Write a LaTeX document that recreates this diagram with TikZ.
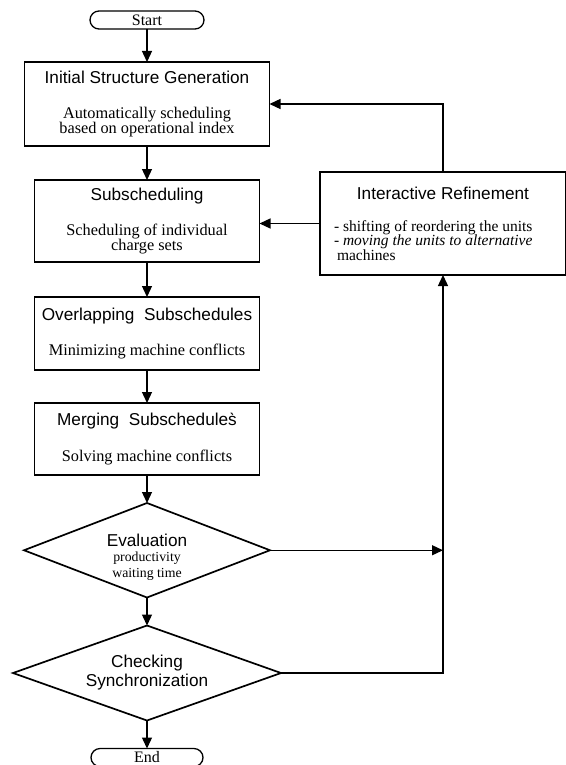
\documentclass[tikz,border=0pt]{standalone}
\usepackage{fontspec}
\setmainfont{Liberation Serif}
\newfontfamily\headfont{Liberation Sans}
\usetikzlibrary{shapes.geometric, positioning}
\usetikzlibrary{arrows.meta}
\newcommand\tightlines{\lineskiplimit=-20pt\relax}

\begin{document}
\begin{tikzpicture}[x=1pt,y=-1pt,>={Triangle[length=11pt,width=10pt]},
                    line width=1.3pt,node distance=33pt,
                    proc/.style={draw,rectangle,align=center,inner sep=0pt,outer sep=0pt,
                                 font=\fontsize{16.3}{15}\selectfont},
                    term/.style={draw,rectangle,rounded corners=9pt,minimum height=18pt,
                                 inner sep=0pt,outer sep=0pt,font=\fontsize{16}{16}\selectfont},
                    decision/.style={draw,diamond,align=center,inner sep=0pt,outer sep=0pt,
                                     line width=1.7pt}]
   \useasboundingbox (0,0) rectangle (565,765);
   \node[term,minimum width=114pt] (start) at (147,20) {Start};
   \node[proc,minimum width=245pt,minimum height=84pt] (init) [below=33pt of start]
      {{\headfont\fontsize{17.2}{15}\selectfont Initial Structure Generation}\\[20pt]
       Automatically scheduling\\based on operational index};
   \node[proc,minimum width=225pt,minimum height=82pt] (sub) [below=34pt of init]
      {{\headfont\fontsize{17.2}{15}\selectfont Subscheduling}\\[19pt]
       Scheduling of individual\\charge sets};
   \node[proc,minimum width=225pt,minimum height=73pt] (overlap) [below=35pt of sub]
      {{\headfont\fontsize{17.2}{15}\selectfont Overlapping\ \ Subschedules}\\[19pt]
       Minimizing machine conflicts};
   \node[proc,minimum width=225pt,minimum height=72pt] (merge) [below=33pt of overlap]
      {{\headfont\fontsize{17.2}{15}\selectfont Merging\ \ Subschedule\`{s}}\\[19pt]
       Solving machine conflicts};
   \node[decision,aspect=2.6,minimum width=246pt,minimum height=94pt,
         font=\fontsize{13.8}{15.5}\selectfont] (eval) [below=28pt of merge]
      {\begin{tabular}{@{}c@{}}\\
         {\headfont\fontsize{17.2}{15.5}\selectfont Evaluation}\\
         productivity\\waiting time\end{tabular}};
   \node[decision,aspect=2.8,minimum width=268pt,minimum height=95pt,
         font=\headfont\fontsize{17.2}{19}\selectfont] (check) [below=28pt of eval]
      {Checking\\Synchronization};
   \node[term,minimum width=112pt] (end) [below=28pt of check] {End};
   \node[proc,align=left,minimum width=246pt,minimum height=103pt,
         font={\fontsize{15.5}{14.5}\selectfont\tightlines}] (refine) at (443,223.5)
      {\makebox[218pt]{\headfont\fontsize{17.2}{12}\selectfont Interactive Refinement}\\[17.5pt]
       - shifting of reordering the units\\
       - \textit{moving the units to alternative}\\
       \hspace*{3pt}machines};

   % main flow
   \draw[->] (start) -- (init);
   \draw[->] (init) -- (sub);
   \draw[->] (sub) -- (overlap);
   \draw[->] (overlap) -- (merge);
   \draw[->] (merge) -- (eval);
   \draw[->] (eval) -- (check);
   \draw[->] (check) -- (end);

   % feedback
   \draw[->] (refine.north) |- (init.east);
   \draw[->] (refine.west) -- (refine.west -| sub.east);
   \draw[->] (eval.east) -- (eval.east -| refine.south);
   \draw[->] (check.east) -| (refine.south);
\end{tikzpicture}
\end{document}
